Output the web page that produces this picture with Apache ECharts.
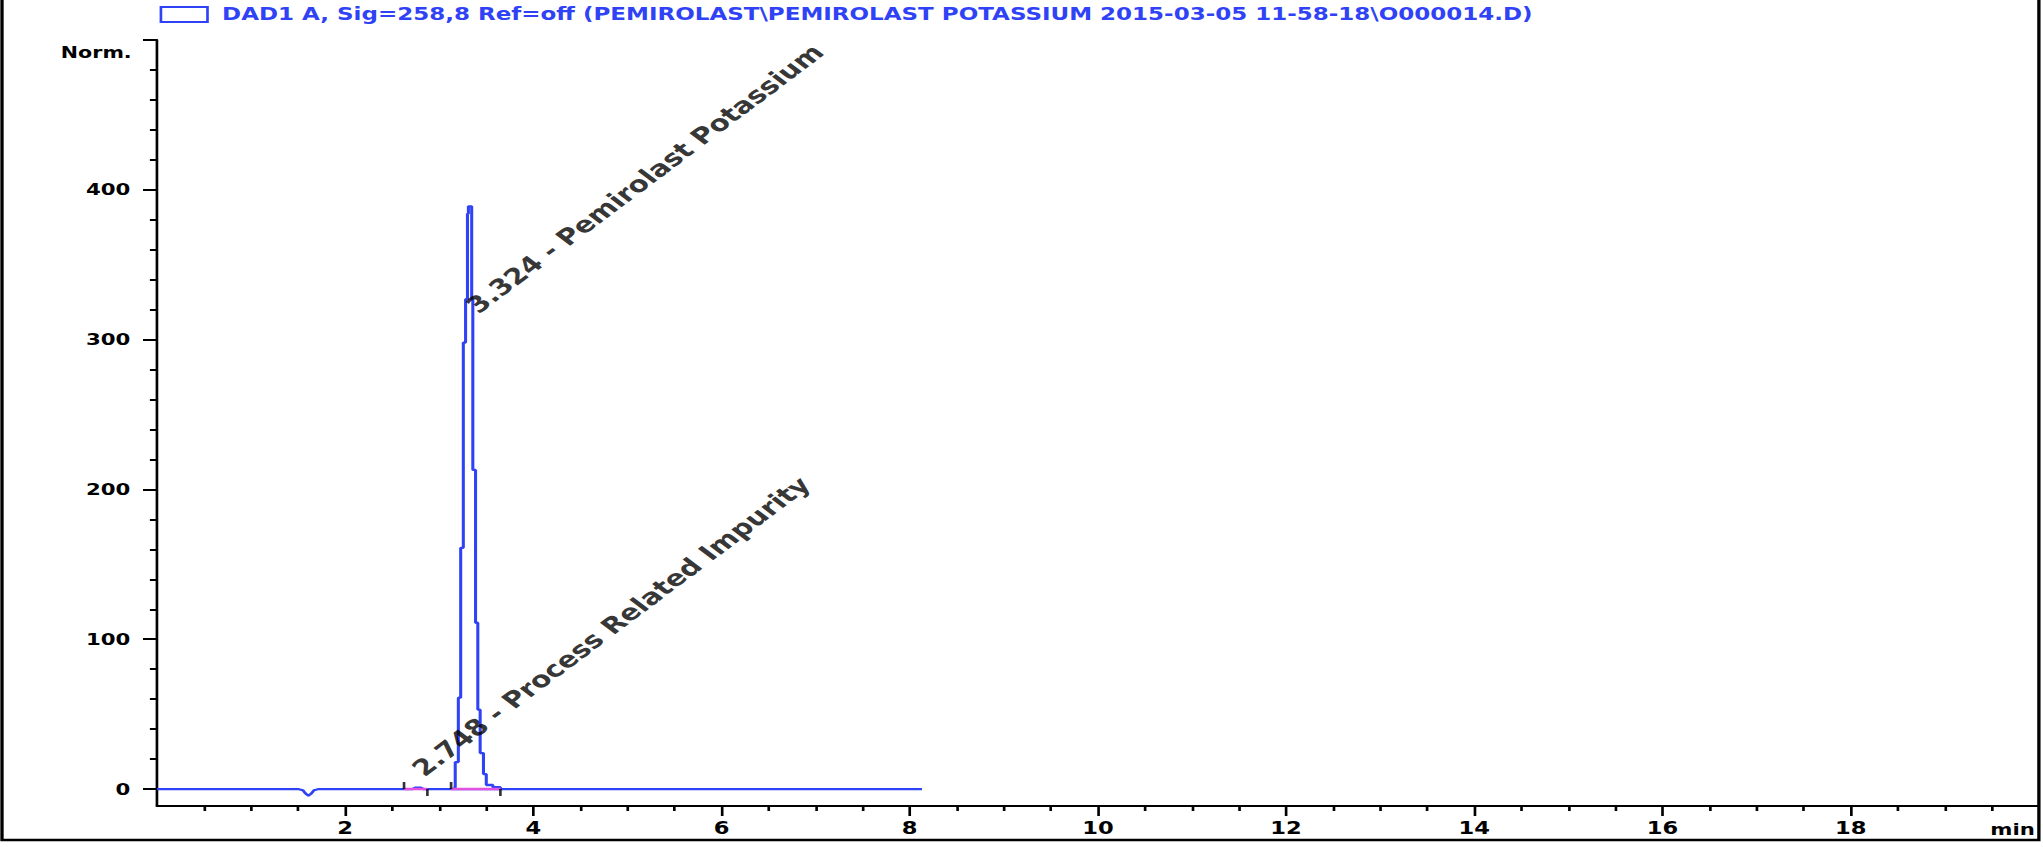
<!DOCTYPE html>
<html>
<head>
<meta charset="utf-8">
<script src="https://cdn.jsdelivr.net/npm/echarts@6/dist/echarts.min.js"></script>
<style>
  html, body { margin: 0; padding: 0; background: #fff; overflow: hidden; }
  /* the source picture is stretched sideways, so the chart is drawn narrow and widened */
  #main { width: 1536px; height: 847px; transform: scaleX(1.33); transform-origin: 0 0; }
</style>
</head>
<body>
<div id="main"></div>
<script>
const signalName = 'DAD1 A, Sig=258,8 Ref=off (PEMIROLAST\\PEMIROLAST POTASSIUM 2015-03-05 11-58-18\\O000014.D)';
const blue = '#2f42f5';

// baseline part of the trace (min, Norm.)
const baseTime = [0, 1.50, 1.55, 1.58, 1.61, 1.64, 1.67, 1.72, 2.72, 2.75, 2.80, 2.83, 8.13];
const baseValue = [0, 0, -0.8, -3, -4.5, -3, -0.8, 0, 0, 1, 1, 0, 0];

// main peak, read as detector steps
const peakTime = [3.15, 3.17, 3.203, 3.228, 3.256, 3.28, 3.30, 3.31, 3.345, 3.357, 3.386, 3.41, 3.435, 3.47, 3.50, 3.57, 3.65];
const peakValue = [1, 18, 61, 161, 298, 327, 384, 389, 327, 213, 111, 53, 24, 10, 2.7, 1.2, 0];

// integration baselines and their start / end marks
const integStart = [2.626, 3.126];
const integEnd = [2.874, 3.65];

// peak names, anchored at retention time
const peakRT = [3.324, 2.748];
const peakLabelAt = [309, 0];
const peakNames = ['3.324 - Pemirolast Potassium', '2.748 - Process Related Impurity'];

const xTicks = [2, 4, 6, 8, 10, 12, 14, 16, 18];
const yLabels = [0, 100, 200, 300, 400];
const yTicks = [0, 100, 200, 300, 400, 500];
const yMinor = [];
for (let v = 20; v < 500; v += 20) {
    if (v % 100 !== 0) yMinor.push(v);
}

const font = 'DejaVu Sans';

let chart = echarts.init(document.getElementById('main'), null, { renderer: 'svg' });

let baseData = baseTime.map((t, i) => [t, baseValue[i]]);
let peakData = peakTime.map((t, i) => [t, peakValue[i]]);
let integSeries = integStart.map((t, i) => ({
    type: 'line',
    data: [[t, 0], [integEnd[i], 0]],
    symbol: 'none',
    lineStyle: { color: '#e450e0', width: 2.5 },
    z: 4,
    silent: true
}));

let option = {
    animation: false,
    legend: {
        data: [signalName],
        left: 120,
        top: 6,
        padding: 0,
        itemWidth: 35,
        itemHeight: 15,
        icon: 'rect',
        selectedMode: false,
        itemStyle: { color: '#fff', borderColor: blue, borderWidth: 2 },
        textStyle: { color: blue, fontFamily: font, fontWeight: 'bold', fontSize: 17.3, padding: [0, 0, 0, 6] }
    },
    grid: {
        left: 118,
        right: 3,
        top: 40,
        bottom: 41,
        containLabel: false,
        outerBoundsMode: 'none'
    },
    xAxis: {
        type: 'value',
        min: 0,
        max: 20,
        interval: 2,
        name: 'min',
        nameLocation: 'end',
        nameGap: -3,
        nameTextStyle: { color: '#000', fontFamily: font, fontWeight: 'bold', fontSize: 16, align: 'right', verticalAlign: 'top', padding: [15, 0, 0, 0] },
        axisLine: { show: true, onZero: false, lineStyle: { color: '#000', width: 2 } },
        axisTick: { show: true, length: 10, customValues: xTicks, lineStyle: { color: '#000', width: 2 } },
        minorTick: { show: true, splitNumber: 4, length: 5, lineStyle: { color: '#000', width: 2 } },
        axisLabel: { customValues: xTicks, color: '#000', fontFamily: font, fontWeight: 'bold', fontSize: 17, margin: 14 },
        splitLine: { show: false },
        minorSplitLine: { show: false }
    },
    yAxis: [
        {
            type: 'value',
            min: -11.33,
            max: 500,
            position: 'left',
            name: 'Norm.',
            nameLocation: 'end',
            nameGap: -12,
            nameTextStyle: { color: '#000', fontFamily: font, fontWeight: 'bold', fontSize: 15.5, align: 'right', verticalAlign: 'middle', padding: [0, 19, 0, 0] },
            axisLine: { show: true, onZero: false, lineStyle: { color: '#000', width: 2 } },
            axisTick: { show: true, length: 10.5, customValues: yTicks, lineStyle: { color: '#000', width: 2 } },
            axisLabel: { customValues: yLabels, color: '#000', fontFamily: font, fontWeight: 'bold', fontSize: 16, margin: 20 },
            splitLine: { show: false }
        },
        {
            type: 'value',
            min: -11.33,
            max: 500,
            position: 'left',
            axisLine: { show: false },
            axisTick: { show: true, length: 5.3, customValues: yMinor, lineStyle: { color: '#000', width: 2 } },
            axisLabel: { show: false },
            splitLine: { show: false }
        }
    ],
    graphic: [
        {
            type: 'rect',
            shape: { x: 1.5, y: -10, width: 1531.5, height: 850 },
            style: { fill: 'none', stroke: '#000', lineWidth: 2.5 },
            silent: true
        }
    ],
    series: [
        {
            name: signalName,
            type: 'line',
            data: baseData,
            symbol: 'none',
            lineStyle: { color: blue, width: 2.3 },
            itemStyle: { color: blue },
            z: 3,
            silent: true
        },
        {
            name: 'peak',
            type: 'line',
            data: peakData,
            step: 'end',
            symbol: 'none',
            lineStyle: { color: blue, width: 2.3 },
            z: 3,
            silent: true
        },
        ...integSeries,
        {
            type: 'scatter',
            data: integStart.map(t => [t, 0]),
            symbol: 'rect',
            symbolSize: [2, 7],
            symbolOffset: [0, -3.5],
            itemStyle: { color: '#000' },
            z: 5,
            silent: true
        },
        {
            type: 'scatter',
            data: integEnd.map(t => [t, 0]),
            symbol: 'rect',
            symbolSize: [2, 7],
            symbolOffset: [0, 3.5],
            itemStyle: { color: '#000' },
            z: 5,
            silent: true
        },
        {
            type: 'scatter',
            data: peakRT.map((t, i) => [t, peakLabelAt[i]]),
            symbolSize: 0,
            z: 6,
            silent: true,
            label: {
                show: true,
                position: 'inside',
                align: 'left',
                verticalAlign: 'bottom',
                rotate: 45,
                offset: [13, 0],
                color: '#000',
                fontFamily: font,
                fontWeight: 'bold',
                fontSize: 22.3,
                formatter: p => peakNames[p.dataIndex]
            }
        }
    ]
};
chart.setOption(option);
</script>
</body>
</html>
